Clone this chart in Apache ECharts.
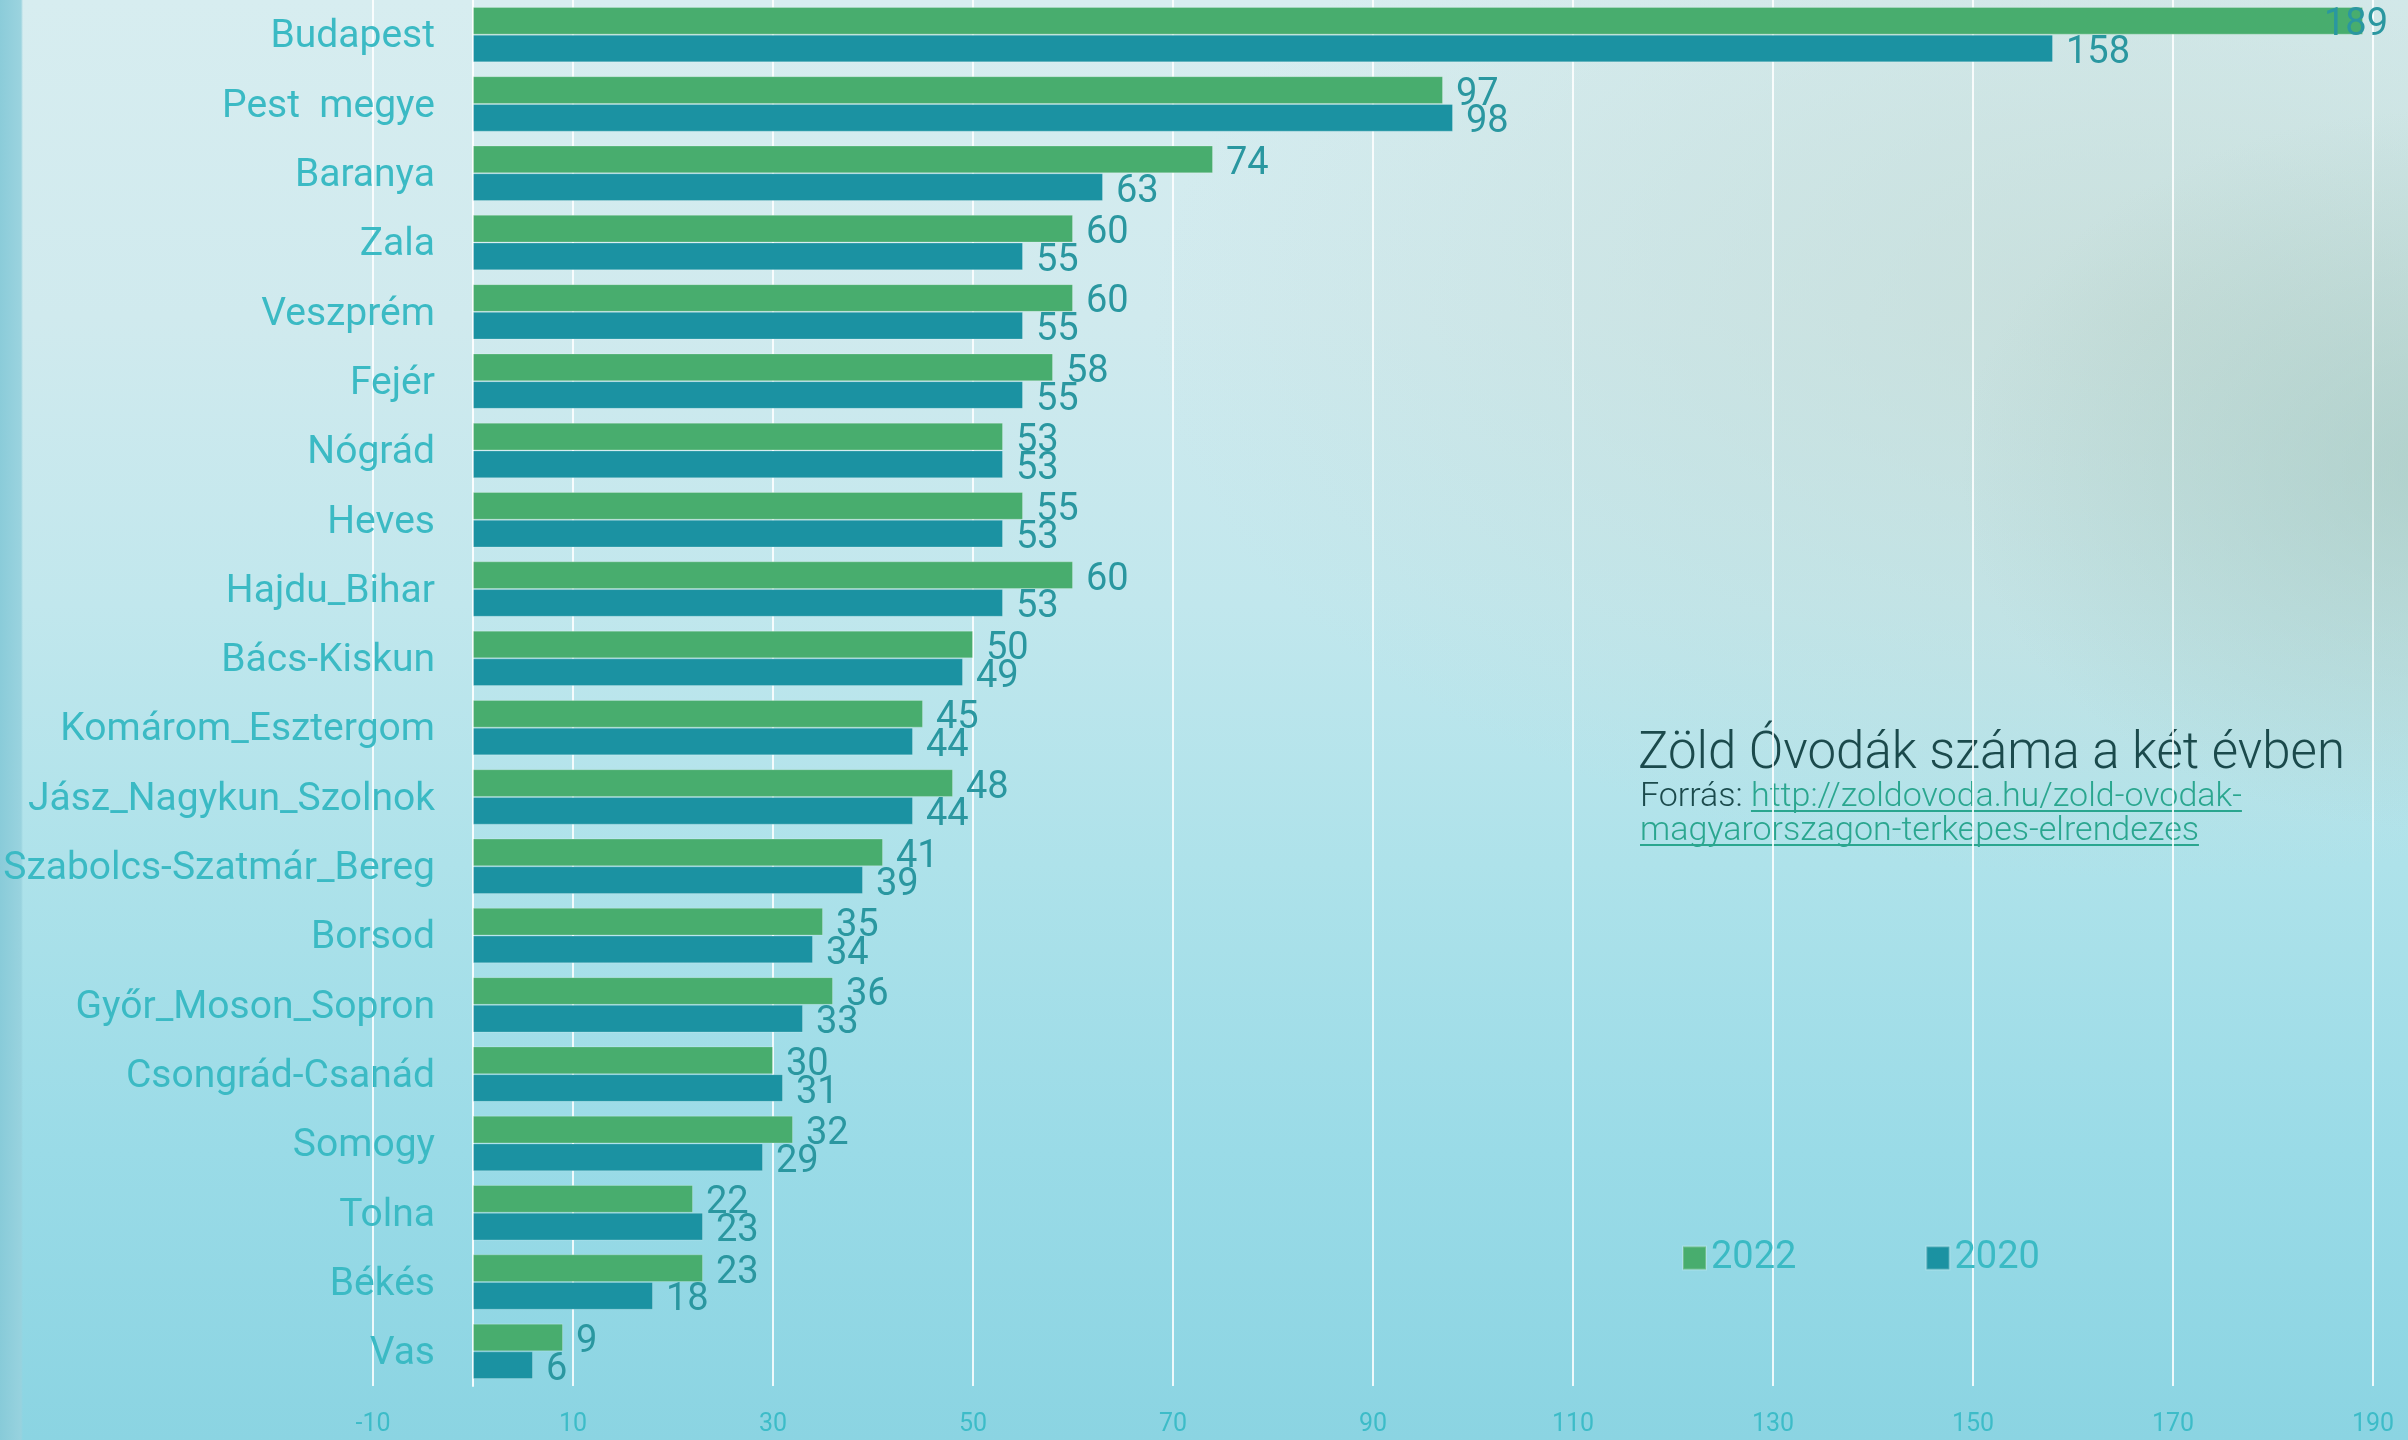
<!DOCTYPE html>
<html>
<head>
<meta charset="utf-8">
<script src="https://cdn.jsdelivr.net/npm/echarts@6/dist/echarts.min.js"></script>
<style>
html,body{margin:0;padding:0;}
#chart{width:2408px;height:1440px;
background:
 linear-gradient(to right, rgba(135,202,216,0.95) 0px, rgba(152,210,222,0.95) 21px, rgba(0,0,0,0) 23px),
 radial-gradient(ellipse 480px 360px at 2440px 470px, rgba(155,192,182,0.5), rgba(155,192,182,0) 100%),
 radial-gradient(ellipse 1000px 560px at 2150px 320px, rgba(196,218,212,0.7), rgba(196,218,212,0) 100%),
 linear-gradient(to bottom, #d7edf0 0%, #d0eaee 22%, #c1e7ed 42%, #aee2ea 60%, #9adbe7 80%, #8bd4e2 100%);}
</style>
</head>
<body>
<div id="chart"></div>
<script>
const categories = ["Budapest","Pest  megye","Baranya","Zala","Veszprém","Fejér","Nógrád","Heves","Hajdu_Bihar","Bács-Kiskun","Komárom_Esztergom","Jász_Nagykun_Szolnok","Szabolcs-Szatmár_Bereg","Borsod","Győr_Moson_Sopron","Csongrád-Csanád","Somogy","Tolna","Békés","Vas"];
const values2022 = [189,97,74,60,60,58,53,55,60,50,45,48,41,35,36,30,32,22,23,9];
const values2020 = [158,98,63,55,55,55,53,53,53,49,44,44,39,34,33,31,29,23,18,6];
const seriesNames = ["2022","2020"];
const titleText = "Zöld Óvodák száma a két évben";
const sourceLabel = "Forrás: ";
const sourceLine1 = "http://zoldovoda.hu/zold-ovodak-";
const sourceLine2 = "magyarorszagon-terkepes-elrendezes";

const fam = 'Roboto, "Noto Sans", sans-serif';
const subFont = '300 34px Roboto, "Noto Sans", sans-serif';

const mctx = document.createElement('canvas').getContext('2d');
function textW(t, f){ mctx.font = f; return mctx.measureText(t).width; }

const srcX = 1640;
const linkX = srcX + textW(sourceLabel, subFont);
const w1 = textW(sourceLine1, subFont);
const w2 = textW(sourceLine2, subFont);

const chart = echarts.init(document.getElementById('chart'), null, {renderer:'canvas'});
const labelCommon = {
  show: true, position: 'right', distance: 13,
  color: '#2a97a0', fontFamily: fam, fontSize: 38
};
chart.setOption({
  backgroundColor: 'transparent',
  animation: false,
  grid: {left: 373, right: 35, top: 0, bottom: 54, outerBoundsMode: 'none', containLabel: false},
  legend: {
    data: seriesNames, left: 1682, top: 1238, padding: 0,
    itemWidth: 23, itemHeight: 23, itemGap: 129, icon: 'rect',
    textStyle: {color: '#3bbac4', fontFamily: fam, fontSize: 38, lineHeight: 40}
  },
  xAxis: {
    type: 'value', min: -10, max: 190, interval: 20,
    axisLine: {show: false}, axisTick: {show: false},
    splitLine: {show: true, lineStyle: {color: 'rgba(255,255,255,0.85)', width: 2}},
    axisLabel: {color: '#3dbcc8', fontFamily: fam, fontSize: 25, margin: 26}
  },
  yAxis: {
    type: 'category', data: categories, inverse: true,
    axisLine: {show: true, onZero: true, lineStyle: {color: 'rgba(255,255,255,0.9)', width: 2}},
    axisTick: {show: false},
    axisLabel: {color: '#3bbac4', fontFamily: fam, fontSize: 39, margin: -62,
      formatter: '{c|{value}}', rich: {c: {color: '#3bbac4', fontFamily: fam, fontSize: 39, padding: [6, 0, 0, 0]}}}
  },
  labelLayout: function (p) {
    const r = p.labelRect;
    const over = r.x + r.width - 2388;
    return {dx: over > 0 ? -over : 0, dy: 5};
  },
  series: [
    {name: seriesNames[0], type: 'bar', data: values2022, barGap: '0%', barCategoryGap: '20%',
     itemStyle: {color: '#48ad6e', borderColor: 'rgba(255,255,255,0.22)', borderWidth: 1},
     label: labelCommon},
    {name: seriesNames[1], type: 'bar', data: values2020, barGap: '0%', barCategoryGap: '20%',
     itemStyle: {color: '#1b92a2', borderColor: 'rgba(255,255,255,0.22)', borderWidth: 1},
     label: labelCommon}
  ],
  graphic: [
    {type: 'text', x: 1638, y: 755, style: {text: titleText, font: '300 51px Roboto, "Noto Sans", sans-serif', fill: '#1b4a4c', verticalAlign: 'middle', textVerticalAlign: 'middle'}},
    {type: 'text', x: srcX, y: 797, style: {text: sourceLabel, font: subFont, fill: '#1b4a4c', verticalAlign: 'middle', textVerticalAlign: 'middle'}},
    {type: 'text', x: linkX, y: 797, style: {text: sourceLine1, font: subFont, fill: '#2aa68f', verticalAlign: 'middle', textVerticalAlign: 'middle'}},
    {type: 'line', shape: {x1: linkX, y1: 811, x2: linkX + w1, y2: 811}, style: {stroke: '#2aa68f', lineWidth: 2}},
    {type: 'text', x: srcX, y: 831, style: {text: sourceLine2, font: subFont, fill: '#2aa68f', verticalAlign: 'middle', textVerticalAlign: 'middle'}},
    {type: 'line', shape: {x1: srcX, y1: 845, x2: srcX + w2, y2: 845}, style: {stroke: '#2aa68f', lineWidth: 2}}
  ]
});
</script>
</body>
</html>
